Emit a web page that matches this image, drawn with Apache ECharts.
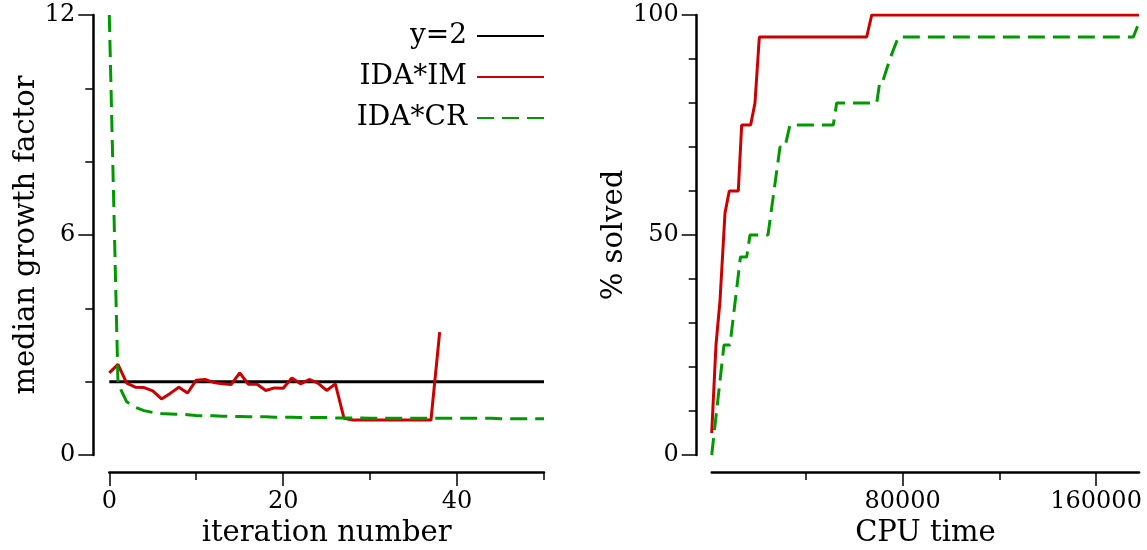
<!DOCTYPE html>
<html>
<head>
<meta charset="utf-8">
<script src="https://cdn.jsdelivr.net/npm/echarts@6/dist/echarts.min.js"></script>
<style>
html,body{margin:0;padding:0;background:#fff;}
#c{width:1147px;height:550px;}
</style>
</head>
<body>
<div id="c"></div>
<script>
// ---- Left panel: median growth factor per iteration ----
const refIter = [0, 50];
const refValues = [2, 2];
const imIter = [0,1,2,3,4,5,6,7,8,9,10,11,12,13,14,15,16,17,18,19,20,21,22,23,24,25,26,27,28,29,30,31,32,33,34,35,36,37,38];
const imValues = [2.24,2.47,1.96,1.85,1.84,1.75,1.53,1.68,1.85,1.69,2.04,2.06,1.98,1.94,1.92,2.24,1.93,1.93,1.76,1.83,1.82,2.10,1.94,2.06,1.96,1.76,1.94,1.00,0.955,0.955,0.955,0.955,0.955,0.955,0.955,0.955,0.955,0.955,3.35];
const crIter = [0,1,2,3,4,5,6,7,8,9,10,11,12,13,14,15,16,17,18,19,20,21,22,23,24,25,26,27,28,29,30,31,32,33,34,35,36,37,38,39,40,41,42,43,44,45,46,47,48,49,50];
const crValues = [12.0,1.95,1.45,1.30,1.21,1.16,1.13,1.12,1.11,1.10,1.08,1.07,1.07,1.06,1.05,1.05,1.04,1.04,1.04,1.03,1.03,1.03,1.02,1.02,1.02,1.02,1.01,1.01,1.01,1.01,1.0,1.0,1.0,1.0,1.0,1.0,1.0,1.0,1.0,1.0,1.0,1.0,1.0,1.0,1.0,0.99,0.99,0.99,0.99,0.99,0.99];
const iterMajorTicks = [0, 20, 40];
const iterMinorTicks = [10, 30, 50];

// ---- Right panel: % solved vs CPU time ----
const cpuIM = [1000, 2770, 4430, 6500, 8270, 12000, 13400, 17100, 18900, 20700, 65100, 67200, 177750];
const solvedIM = [5, 25, 35, 55, 60, 60, 75, 75, 80, 95, 95, 100, 100];
const cpuCR = [1000, 6080, 8560, 12900, 15470, 16840, 24280, 29250, 31300, 33380, 51300, 52700, 69250, 70600, 71800, 74700, 78200, 175400, 177750];
const solvedCR = [0, 25, 25, 45, 45, 50, 50, 70, 70, 75, 75, 80, 80, 85, 85, 90, 95, 95, 98.3];
const cpuMajorTicks = [80000, 160000];
const cpuMinorTicks = [40000, 120000];

const FONT = 'DejaVu Serif';
const RED = '#cc0000';
const GREEN = '#009a00';
const LW = 3;
const zip = (xs, ys) => xs.map((x, i) => [x, ys[i]]);

const tickStyle = {color: '#000', width: 1.5};
const lineAxis = {show: true, onZero: false, lineStyle: {color: '#000', width: 2.5}};
const labelBase = {color: '#000', fontFamily: FONT, fontSize: 24, formatter: v => String(v)};
const nameStyle = {color: '#000', fontFamily: FONT, fontSize: 29};

const chart = echarts.init(document.getElementById('c'), null, {renderer: 'canvas'});
chart.setOption({
  animation: false,
  backgroundColor: '#ffffff',
  textStyle: {fontFamily: FONT, color: '#000'},
  grid: [
    {left: 109.3, top: 15, width: 434.7, height: 440, containLabel: false, outerBoundsMode: 'none'},
    {left: 711.7, top: 15, width: 427.3, height: 440, containLabel: false, outerBoundsMode: 'none'}
  ],
  legend: {
    data: ['y=2', 'IDA*IM', 'IDA*CR'],
    orient: 'vertical',
    align: 'right',
    right: 597,
    top: 17,
    itemWidth: 67,
    itemHeight: 14,
    itemGap: 13,
    selectedMode: false,
    itemStyle: {opacity: 0},
    textStyle: {fontFamily: FONT, fontSize: 28, color: '#000', padding: [0, 5, 0, 0]}
  },
  xAxis: [
    {
      gridIndex: 0, type: 'value', min: 0, max: 50, position: 'bottom', offset: 17,
      axisLine: lineAxis,
      axisTick: {show: true, customValues: iterMajorTicks, length: 14, lineStyle: tickStyle},
      axisLabel: Object.assign({customValues: iterMajorTicks, margin: 18}, labelBase),
      splitLine: {show: false},
      name: 'iteration number', nameLocation: 'middle', nameGap: 38, nameTextStyle: nameStyle
    },
    {
      gridIndex: 0, type: 'value', min: 0, max: 50, position: 'bottom', offset: 17,
      axisLine: {show: false, onZero: false},
      axisTick: {show: true, customValues: iterMinorTicks, length: 8, lineStyle: tickStyle},
      axisLabel: {show: false},
      splitLine: {show: false}
    },
    {
      gridIndex: 1, type: 'value', min: 1000, max: 177750, position: 'bottom', offset: 17,
      axisLine: lineAxis,
      axisTick: {show: true, customValues: cpuMajorTicks, length: 14, lineStyle: tickStyle},
      axisLabel: Object.assign({customValues: cpuMajorTicks, margin: 18}, labelBase),
      splitLine: {show: false},
      name: 'CPU time', nameLocation: 'middle', nameGap: 36, nameTextStyle: nameStyle
    },
    {
      gridIndex: 1, type: 'value', min: 1000, max: 177750, position: 'bottom', offset: 17,
      axisLine: {show: false, onZero: false},
      axisTick: {show: true, customValues: cpuMinorTicks, length: 8, lineStyle: tickStyle},
      axisLabel: {show: false},
      splitLine: {show: false}
    }
  ],
  yAxis: [
    {
      gridIndex: 0, type: 'value', min: 0, max: 12, interval: 6, position: 'left', offset: 16,
      axisLine: lineAxis,
      axisTick: {show: true, length: 15, lineStyle: tickStyle},
      minorTick: {show: true, splitNumber: 3, length: 8, lineStyle: tickStyle},
      axisLabel: Object.assign({margin: 18}, labelBase),
      splitLine: {show: false},
      name: 'median growth factor', nameLocation: 'middle', nameGap: 38, nameTextStyle: nameStyle
    },
    {
      gridIndex: 1, type: 'value', min: 0, max: 100, interval: 50, position: 'left', offset: 15,
      axisLine: lineAxis,
      axisTick: {show: true, length: 15, lineStyle: tickStyle},
      minorTick: {show: true, splitNumber: 5, length: 8, lineStyle: tickStyle},
      axisLabel: Object.assign({margin: 18}, labelBase),
      splitLine: {show: false},
      name: '% solved', nameLocation: 'middle', nameGap: 47, nameTextStyle: nameStyle
    }
  ],
  series: [
    {
      name: 'y=2', type: 'line', xAxisIndex: 0, yAxisIndex: 0, symbol: 'none',
      data: zip(refIter, refValues),
      lineStyle: {color: '#000', width: LW}, itemStyle: {color: '#000'}
    },
    {
      name: 'IDA*IM', type: 'line', xAxisIndex: 0, yAxisIndex: 0, symbol: 'none',
      data: zip(imIter, imValues),
      lineStyle: {color: RED, width: LW}, itemStyle: {color: RED}
    },
    {
      name: 'IDA*CR', type: 'line', xAxisIndex: 0, yAxisIndex: 0, symbol: 'none',
      data: zip(crIter, crValues),
      lineStyle: {color: GREEN, width: LW, type: [17, 8]}, itemStyle: {color: GREEN}
    },
    {
      name: 'IDA*IM', type: 'line', xAxisIndex: 2, yAxisIndex: 1, symbol: 'none',
      data: zip(cpuIM, solvedIM),
      lineStyle: {color: RED, width: LW}, itemStyle: {color: RED}
    },
    {
      name: 'IDA*CR', type: 'line', xAxisIndex: 2, yAxisIndex: 1, symbol: 'none',
      data: zip(cpuCR, solvedCR),
      lineStyle: {color: GREEN, width: LW, type: [17, 8]}, itemStyle: {color: GREEN}
    }
  ]
});
</script>
</body>
</html>
